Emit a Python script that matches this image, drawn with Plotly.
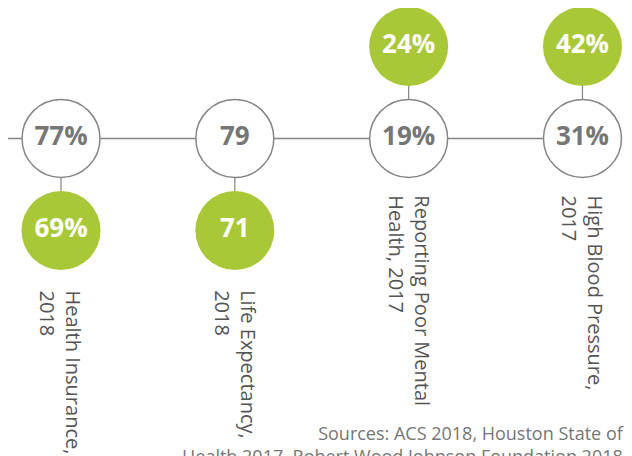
import plotly.graph_objects as go

# indicator data
indicators = ["Health Insurance,", "Life Expectancy,", "Reporting Poor Mental", "High Blood Pressure,"]
second_lines = ["2018", "2018", "Health, 2017", "2017"]
local_values = [77, 79, 19, 31]
compare_values = [69, 71, 24, 42]
units = ["%", "", "%", "%"]
compare_side = [-1, -1, 1, 1]   # -1 = below the main circle, 1 = above
source_lines = ["Sources: ACS 2018, Houston State of",
                "Health 2017, Robert Wood Johnson Foundation 2018"]

GRAY = "#858585"
NUM_GRAY = "#767676"
LABEL_GRAY = "#555555"
GREEN = "#a9c838"
FONT = "Open Sans"

xs = list(range(len(indicators)))

fig = go.Figure()

# horizontal timeline
fig.add_trace(go.Scatter(x=[-1, xs[-1]], y=[0, 0], mode="lines",
                         line=dict(color=GRAY, width=1.5), hoverinfo="skip"))

# connectors between main and comparison circles
for i in xs:
    fig.add_trace(go.Scatter(x=[i, i], y=[0, compare_side[i]], mode="lines",
                             line=dict(color=GRAY, width=1.2), hoverinfo="skip"))

# main circles
fig.add_trace(go.Scatter(
    x=xs, y=[0] * len(xs), mode="markers+text",
    marker=dict(size=78, color="white", line=dict(color=GRAY, width=1.5)),
    text=[f"{v}{u}" for v, u in zip(local_values, units)],
    textposition="middle center",
    textfont=dict(family=FONT, size=26, color=NUM_GRAY, weight="bold"),
))

# comparison circles
fig.add_trace(go.Scatter(
    x=xs, y=compare_side, mode="markers+text",
    marker=dict(size=79, color=GREEN, line=dict(width=0)),
    text=[f"{v}{u}" for v, u in zip(compare_values, units)],
    textposition="middle center",
    textfont=dict(family=FONT, size=26, color="white", weight="bold"),
))

# rotated labels below the lowest circle
for i in xs:
    low = min(0, compare_side[i])
    fig.add_annotation(
        x=i, y=low, xref="x", yref="y",
        text=f"{indicators[i]}<br>{second_lines[i]}",
        textangle=90, showarrow=False, align="left",
        xanchor="center", yanchor="top",
        yshift=-58 if low < 0 else -55,
        font=dict(family=FONT, size=20, color=LABEL_GRAY),
    )

fig.add_annotation(
    x=1, y=0, xref="paper", yref="paper",
    text="<br>".join(source_lines), showarrow=False, align="right",
    xanchor="right", yanchor="bottom", xshift=-14, yshift=-6,
    font=dict(family=FONT, size=18, color=NUM_GRAY),
)

fig.update_xaxes(range=[-0.305, 3.331], visible=False)
fig.update_yaxes(range=[-3.538, 1.418], visible=False)
fig.update_layout(
    width=632, height=456,
    margin=dict(l=0, r=0, t=0, b=0, autoexpand=False),
    paper_bgcolor="white", plot_bgcolor="white",
    showlegend=False,
)

fig.write_html("out.html")
